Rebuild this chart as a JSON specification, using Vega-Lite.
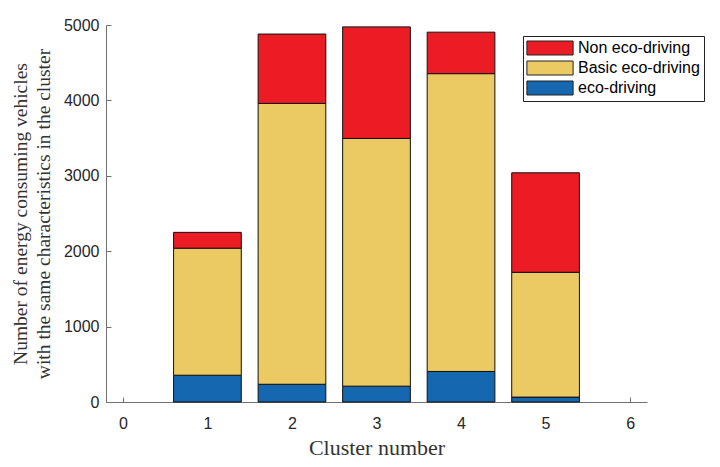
{
  "$schema": "https://vega.github.io/schema/vega-lite/v6.json",
  "width": 541,
  "height": 377,
  "autosize": {"type": "none"},
  "padding": {"left": 106, "top": 25, "right": 73, "bottom": 65},
  "background": "white",
  "data": {
    "values": [
      {"cluster": 1, "type": "eco-driving", "k": 1, "count": 355},
      {"cluster": 1, "type": "Basic eco-driving", "k": 2, "count": 1685},
      {"cluster": 1, "type": "Non eco-driving", "k": 3, "count": 210},
      {"cluster": 2, "type": "eco-driving", "k": 1, "count": 235},
      {"cluster": 2, "type": "Basic eco-driving", "k": 2, "count": 3725},
      {"cluster": 2, "type": "Non eco-driving", "k": 3, "count": 920},
      {"cluster": 3, "type": "eco-driving", "k": 1, "count": 210},
      {"cluster": 3, "type": "Basic eco-driving", "k": 2, "count": 3285},
      {"cluster": 3, "type": "Non eco-driving", "k": 3, "count": 1480},
      {"cluster": 4, "type": "eco-driving", "k": 1, "count": 405},
      {"cluster": 4, "type": "Basic eco-driving", "k": 2, "count": 3950},
      {"cluster": 4, "type": "Non eco-driving", "k": 3, "count": 550},
      {"cluster": 5, "type": "eco-driving", "k": 1, "count": 65},
      {"cluster": 5, "type": "Basic eco-driving", "k": 2, "count": 1655},
      {"cluster": 5, "type": "Non eco-driving", "k": 3, "count": 1320}
    ]
  },
  "mark": {"type": "bar", "size": 67.7, "stroke": "#111111", "strokeWidth": 1},
  "encoding": {
    "x": {
      "field": "cluster",
      "type": "quantitative",
      "scale": {"domain": [-0.2, 6.2], "nice": false, "zero": false, "padding": 0},
      "axis": {
        "title": "Cluster number",
        "values": [0, 1, 2, 3, 4, 5, 6],
        "format": "d",
        "grid": false,
        "titleY": 52,
        "titleBaseline": "alphabetic"
      }
    },
    "y": {
      "field": "count",
      "type": "quantitative",
      "stack": "zero",
      "scale": {"domain": [0, 5000], "nice": false},
      "axis": {
        "title": ["Number of energy consuming vehicles", "with the same characteristics in the cluster"],
        "values": [0, 1000, 2000, 3000, 4000, 5000],
        "format": "d",
        "grid": false,
        "titleAngle": -90,
        "titleX": -80,
        "titleY": 188.5,
        "titleAlign": "center",
        "titleBaseline": "alphabetic",
        "titleLineHeight": 23
      }
    },
    "order": {"field": "k", "type": "quantitative"},
    "color": {
      "field": "type",
      "type": "nominal",
      "scale": {
        "domain": ["Non eco-driving", "Basic eco-driving", "eco-driving"],
        "range": ["#EC1C24", "#EBC963", "#1567B0"]
      },
      "legend": {
        "title": null,
        "orient": "none",
        "legendX": 417,
        "legendY": 11,
        "symbolType": "M-6.6,-2H6.6V2H-6.6Z",
        "symbolSize": 49,
        "symbolOffset": 15,
        "symbolStrokeColor": "#222222",
        "symbolStrokeWidth": 1,
        "symbolOpacity": 1,
        "labelFont": "Liberation Sans",
        "labelFontSize": 16,
        "labelColor": "#000000",
        "labelOffset": 20,
        "rowPadding": 2,
        "padding": 4,
        "strokeColor": "#222222",
        "fillColor": "white"
      }
    }
  },
  "config": {
    "view": {"stroke": null},
    "axis": {
      "domainColor": "#707070",
      "tickColor": "#707070",
      "tickSize": -5,
      "labelFont": "Liberation Sans",
      "labelFontSize": 16,
      "labelColor": "#262626",
      "titleFont": "Liberation Serif",
      "titleFontWeight": "normal",
      "titleColor": "#333333"
    },
    "axisX": {"labelPadding": 18, "titleFontSize": 22},
    "axisY": {"labelPadding": 12, "titleFontSize": 19.5}
  }
}
